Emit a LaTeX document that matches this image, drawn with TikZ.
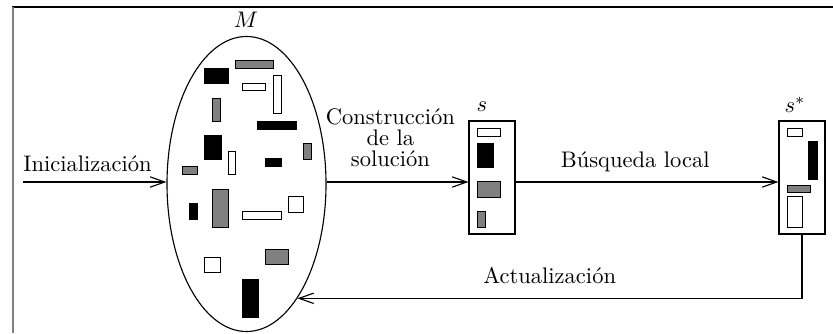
\documentclass[tikz,border=0pt]{standalone}
\usepackage{tikz}
\usetikzlibrary{positioning, shapes.geometric, arrows.meta}

\begin{document}
\begin{tikzpicture}[x=0.444pt, y=-0.444pt, pool/.style={ellipse, draw=black, line width=0.5pt, minimum width=70.6pt, minimum height=131pt, inner sep=0pt}, sol/.style={rectangle, draw=black, line width=0.5pt, minimum width=20.4pt, minimum height=50.2pt, inner sep=0pt}, arr/.style={line width=0.5pt, -{Straight Barb[length=6.5pt, width=4.6pt]}}, blk/.style={draw=black, fill=black}, gry/.style={draw=black, fill=black!50}, wht/.style={draw=black, fill=white}]

    \useasboundingbox (0,0) rectangle (833,333);
    \draw[line width=0.7pt] (12,7) -- (833,7);
    \draw[line width=0.7pt, black!50] (13,7) -- (13,333);

    % Nodes
    \node[pool] (M)     at (246.5,184)  {};
    \node[sol]  (s)     at (492,177.5)  {};
    \node[sol]  (sstar) at (802,177.5)  {};
    \node (Mlab)        at (246,20)     {$M$};
    \node (slab)        at (482,107)    {$s$};
    \node (sstarlab)    at (795,105)    {$s^*$};
    \coordinate (start) at (23,182);

    % Pieces in M
    \draw[gry] (235,60) rectangle (273,68);
    \draw[blk] (204,68) rectangle (228,83);
    \draw[wht] (242,83) rectangle (265,90);
    \draw[wht] (273,75) rectangle (281,113);
    \draw[gry] (212,98) rectangle (220,121);
    \draw[blk] (257,121) rectangle (296,129);
    \draw[blk] (204,135) rectangle (221,159);
    \draw[wht] (228,151) rectangle (235,174);
    \draw[gry] (303,143) rectangle (311,159);
    \draw[blk] (265,158) rectangle (281,166);
    \draw[gry] (182,166) rectangle (197,174);
    \draw[gry] (212,189) rectangle (228,227);
    \draw[blk] (189,203) rectangle (197,219);
    \draw[wht] (242,211) rectangle (281,219);
    \draw[wht] (288,196) rectangle (303,212);
    \draw[gry] (265,249) rectangle (288,264);
    \draw[wht] (204,257) rectangle (220,272);
    \draw[blk] (242,279) rectangle (258,317);

    % Pieces in s
    \draw[wht] (477,128) rectangle (500,136);
    \draw[blk] (477,143) rectangle (493,167);
    \draw[gry] (477,181) rectangle (500,197);
    \draw[gry] (477,211) rectangle (485,227);

    % Pieces in s*
    \draw[wht] (787,128) rectangle (802,136);
    \draw[blk] (808,141) rectangle (817,179);
    \draw[gry] (787,185) rectangle (810,192);
    \draw[wht] (787,196) rectangle (802,227);

    % Lines ---------------
    \draw[arr] (start) -- node[pos=0.45, above=1pt] {Inicializaci\'on} (start -| M.west);
    \draw[arr] (M.east |- start) -- node[pos=0.45, above=3pt, align=center] {Construcci\'on\\[-2.5pt] de la\\[-2.5pt] soluci\'on} (start -| s.west);
    \draw[arr] (s.east |- start) -- node[pos=0.455, above=1pt] {B\'usqueda local} (start -| sstar.west);
    \draw[arr] (sstar.south) |- node[pos=0.75, above=3pt] {Actualizaci\'on} (M.-66);

\end{tikzpicture}
\end{document}
